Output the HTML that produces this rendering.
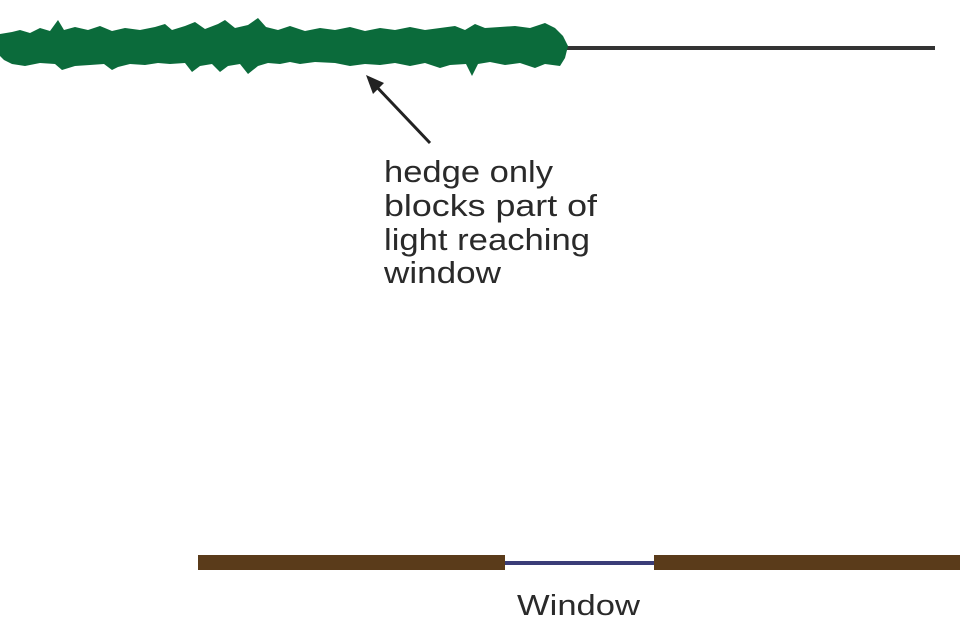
<!DOCTYPE html>
<html><head><meta charset="utf-8"><style>
html,body{margin:0;padding:0;background:#fff;width:960px;height:640px;overflow:hidden}
svg{display:block}
text{font-family:"Liberation Sans",sans-serif;fill:#2a2a2a}
</style></head><body>
<svg width="960" height="640" viewBox="0 0 960 640">
<line x1="560" y1="48" x2="935" y2="48" stroke="#333" stroke-width="4"/>
<path fill="#0b6b3b" d="M0,34 L12,32 L20,30 L30,33 L40,28 L50,31 L58,20 L64,30 L75,27 L88,30 L100,26 L112,31 L125,28 L140,30 L155,27 L165,24 L172,30 L185,26 L195,22 L205,29 L218,24 L225,20 L235,28 L248,25 L258,18 L266,27 L278,30 L290,26 L305,31 L320,28 L335,30 L350,27 L365,31 L380,28 L395,30 L410,27 L425,30 L440,28 L455,26 L465,30 L475,24 L485,28 L500,27 L515,26 L530,28 L545,23 L555,28 L563,36 L568,46 L565,58 L560,66 L545,64 L535,68 L520,63 L505,65 L490,62 L478,64 L472,76 L466,64 L450,65 L440,68 L425,63 L410,66 L395,63 L380,65 L365,64 L350,66 L335,63 L315,62 L300,64 L290,62 L280,64 L268,63 L258,66 L248,74 L240,64 L228,66 L220,72 L212,64 L200,66 L192,72 L185,63 L170,64 L158,63 L145,65 L130,64 L118,67 L112,70 L104,64 L90,65 L75,66 L62,70 L55,64 L40,63 L25,66 L12,64 L4,60 L0,56 Z"/>
<line x1="430" y1="143" x2="374" y2="84" stroke="#222" stroke-width="3"/>
<polygon points="366,75 384,83 373,94" fill="#222"/>
<text font-size="31" x="384" y="182" textLength="169" lengthAdjust="spacingAndGlyphs">hedge only</text>
<text font-size="31" x="384" y="216" textLength="213" lengthAdjust="spacingAndGlyphs">blocks part of</text>
<text font-size="31" x="384" y="250" textLength="206" lengthAdjust="spacingAndGlyphs">light reaching</text>
<text font-size="31" x="384" y="283" textLength="117" lengthAdjust="spacingAndGlyphs">window</text>
<line x1="500" y1="563" x2="660" y2="563" stroke="#3a3d78" stroke-width="4"/>
<rect x="198" y="555" width="307" height="15" fill="#5a3b1a"/>
<rect x="654" y="555" width="306" height="15" fill="#5a3b1a"/>
<text font-size="29" x="517" y="615" textLength="123" lengthAdjust="spacingAndGlyphs">Window</text>
</svg>
</body></html>
